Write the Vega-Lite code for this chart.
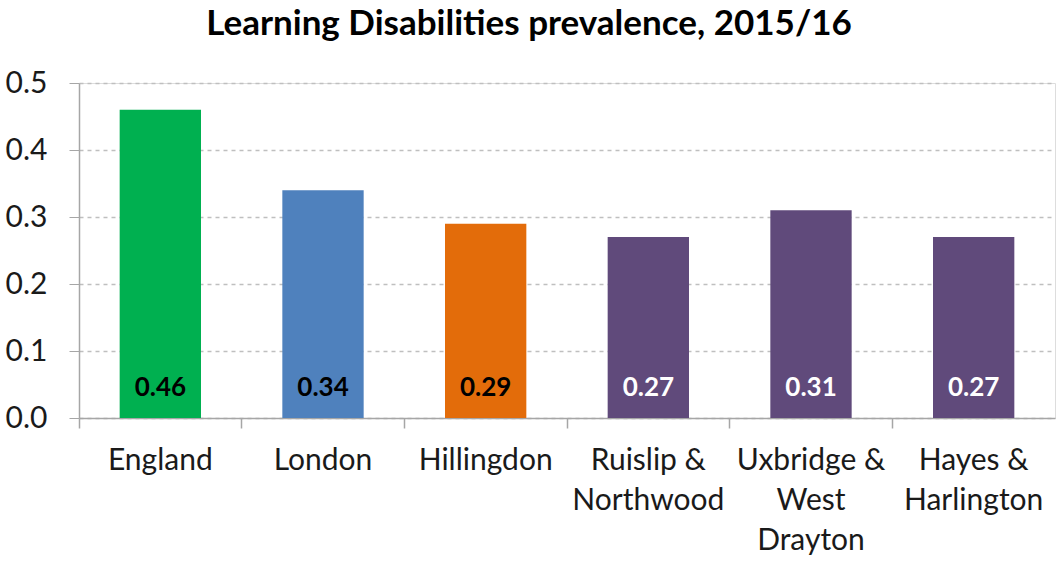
{
  "$schema": "https://vega.github.io/schema/vega-lite/v6.json",
  "autosize": "none",
  "width": 976,
  "height": 335,
  "padding": {"left": 79, "top": 83, "right": 4, "bottom": 144},
  "background": "white",
  "title": {"text": "Learning Disabilities prevalence, 2015/16", "font": "Lato", "fontSize": 35, "fontWeight": "bold", "color": "#000000", "anchor": "middle", "dx": -38, "offset": 26},
  "data": {"values": [
    {"area": "England", "value": 0.46, "group": "England", "labelColor": "black"},
    {"area": "London", "value": 0.34, "group": "London", "labelColor": "black"},
    {"area": "Hillingdon", "value": 0.29, "group": "Hillingdon", "labelColor": "black"},
    {"area": "Ruislip & Northwood", "value": 0.27, "group": "Ward", "labelColor": "white"},
    {"area": "Uxbridge & West Drayton", "value": 0.31, "group": "Ward", "labelColor": "white"},
    {"area": "Hayes & Harlington", "value": 0.27, "group": "Ward", "labelColor": "white"}
  ]},
  "encoding": {
    "x": {"field": "area", "type": "nominal", "sort": null,
      "scale": {"paddingInner": 0.5, "paddingOuter": 0.25}},
    "y": {"field": "value", "type": "quantitative", "scale": {"domain": [0, 0.5]}}
  },
  "resolve": {"axis": {"x": "independent"}},
  "layer": [
    {
      "mark": {"type": "bar"},
      "encoding": {
        "x": {"field": "area", "type": "nominal", "sort": null, "title": null,
          "axis": {"orient": "bottom", "labelAngle": 0, "ticks": false, "domain": true, "domainColor": "#a6a6a6", "domainWidth": 1.5,
            "labelFont": "Lato", "labelFontSize": 30, "labelColor": "#1a1a1a", "labelPadding": 27, "labelLineHeight": 40, "labelBaseline": "top",
            "labelExpr": "datum.value == 'Ruislip & Northwood' ? ['Ruislip &', 'Northwood'] : datum.value == 'Uxbridge & West Drayton' ? ['Uxbridge &', 'West', 'Drayton'] : datum.value == 'Hayes & Harlington' ? ['Hayes &', 'Harlington'] : datum.value"}},
        "y": {"field": "value", "type": "quantitative", "title": null,
          "axis": {"values": [0, 0.1, 0.2, 0.3, 0.4, 0.5], "format": ".1f", "labelFont": "Lato", "labelFontSize": 30, "labelColor": "#1a1a1a", "labelPadding": 22,
            "tickSize": 10, "tickColor": "#a6a6a6", "domainColor": "#a6a6a6", "domainWidth": 1.5,
            "grid": true, "gridDash": [4, 4], "gridColor": "#bfbfbf", "gridWidth": 1.5}},
        "color": {"field": "group", "type": "nominal", "legend": null,
          "scale": {"domain": ["England", "London", "Hillingdon", "Ward"], "range": ["#00B050", "#4F81BD", "#E36C0A", "#604A7B"]}}
      }
    },
    {
      "mark": {"type": "text", "font": "Lato", "fontSize": 26, "fontWeight": "bold", "baseline": "middle", "dy": -30},
      "encoding": {
        "x": {"field": "area", "type": "nominal", "sort": null, "title": null,
          "axis": {"orient": "bottom", "labels": false, "domain": false, "ticks": true, "tickSize": 10, "tickColor": "#a6a6a6", "tickWidth": 1.5, "bandPosition": -0.5}},
        "y": {"datum": 0, "type": "quantitative"},
        "text": {"field": "value", "type": "quantitative", "format": ".2f"},
        "color": {"field": "labelColor", "type": "nominal", "scale": null}
      }
    }
  ]
}
